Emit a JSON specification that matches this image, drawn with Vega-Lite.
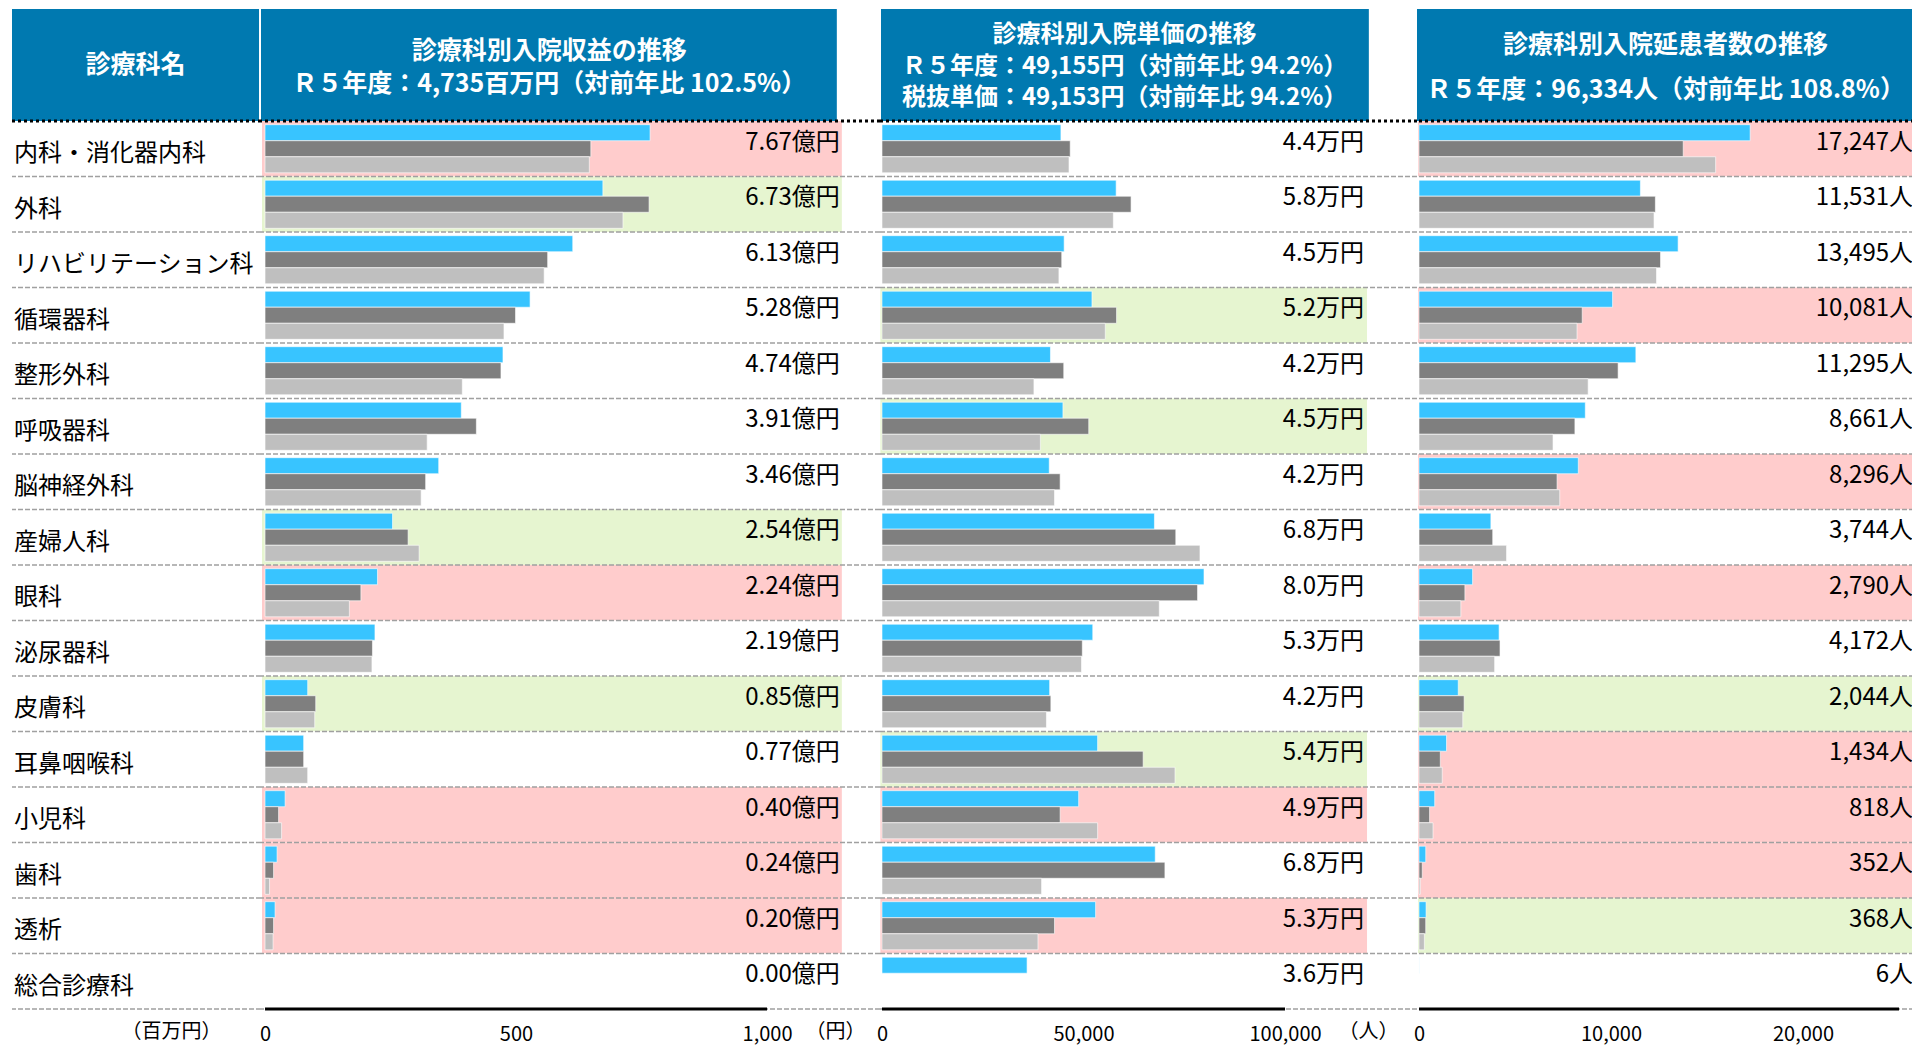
{
  "$schema": "https://vega.github.io/schema/vega-lite/v6.json",
  "padding": {"left": 10, "top": 9, "right": 0, "bottom": 4},
  "bounds": "flush",
  "spacing": 0,
  "columns": 4,
  "config": {
    "view": {"stroke": null},
    "font": "Noto Sans CJK JP",
    "text": {"font": "Noto Sans CJK JP"},
    "axis": {"labelFont": "Noto Sans CJK JP", "titleFont": "Noto Sans CJK JP"}
  },
  "datasets": {
    "rows": [
      {"dept": "内科・消化器内科", "revBg": "down", "priceBg": "none", "patBg": "down", "revLabel": "7.67億円", "priceLabel": "4.4万円", "patLabel": "17,247人"},
      {"dept": "外科", "revBg": "up", "priceBg": "none", "patBg": "none", "revLabel": "6.73億円", "priceLabel": "5.8万円", "patLabel": "11,531人"},
      {"dept": "リハビリテーション科", "revBg": "none", "priceBg": "none", "patBg": "none", "revLabel": "6.13億円", "priceLabel": "4.5万円", "patLabel": "13,495人"},
      {"dept": "循環器科", "revBg": "none", "priceBg": "up", "patBg": "down", "revLabel": "5.28億円", "priceLabel": "5.2万円", "patLabel": "10,081人"},
      {"dept": "整形外科", "revBg": "none", "priceBg": "none", "patBg": "none", "revLabel": "4.74億円", "priceLabel": "4.2万円", "patLabel": "11,295人"},
      {"dept": "呼吸器科", "revBg": "none", "priceBg": "up", "patBg": "none", "revLabel": "3.91億円", "priceLabel": "4.5万円", "patLabel": "8,661人"},
      {"dept": "脳神経外科", "revBg": "none", "priceBg": "none", "patBg": "down", "revLabel": "3.46億円", "priceLabel": "4.2万円", "patLabel": "8,296人"},
      {"dept": "産婦人科", "revBg": "up", "priceBg": "none", "patBg": "none", "revLabel": "2.54億円", "priceLabel": "6.8万円", "patLabel": "3,744人"},
      {"dept": "眼科", "revBg": "down", "priceBg": "none", "patBg": "down", "revLabel": "2.24億円", "priceLabel": "8.0万円", "patLabel": "2,790人"},
      {"dept": "泌尿器科", "revBg": "none", "priceBg": "none", "patBg": "none", "revLabel": "2.19億円", "priceLabel": "5.3万円", "patLabel": "4,172人"},
      {"dept": "皮膚科", "revBg": "up", "priceBg": "none", "patBg": "up", "revLabel": "0.85億円", "priceLabel": "4.2万円", "patLabel": "2,044人"},
      {"dept": "耳鼻咽喉科", "revBg": "none", "priceBg": "up", "patBg": "down", "revLabel": "0.77億円", "priceLabel": "5.4万円", "patLabel": "1,434人"},
      {"dept": "小児科", "revBg": "down", "priceBg": "down", "patBg": "down", "revLabel": "0.40億円", "priceLabel": "4.9万円", "patLabel": "818人"},
      {"dept": "歯科", "revBg": "down", "priceBg": "none", "patBg": "down", "revLabel": "0.24億円", "priceLabel": "6.8万円", "patLabel": "352人"},
      {"dept": "透析", "revBg": "down", "priceBg": "down", "patBg": "up", "revLabel": "0.20億円", "priceLabel": "5.3万円", "patLabel": "368人"},
      {"dept": "総合診療科", "revBg": "none", "priceBg": "none", "patBg": "none", "revLabel": "0.00億円", "priceLabel": "3.6万円", "patLabel": "6人"}
    ],
    "bars": [
      {"dept": "内科・消化器内科", "year": "R5", "rev": 767, "price": 44400, "pat": 17247},
      {"dept": "内科・消化器内科", "year": "R4", "rev": 649, "price": 46700, "pat": 13760},
      {"dept": "内科・消化器内科", "year": "R3", "rev": 646, "price": 46400, "pat": 15450},
      {"dept": "外科", "year": "R5", "rev": 673, "price": 58100, "pat": 11531},
      {"dept": "外科", "year": "R4", "rev": 765, "price": 61800, "pat": 12310},
      {"dept": "外科", "year": "R3", "rev": 713, "price": 57400, "pat": 12240},
      {"dept": "リハビリテーション科", "year": "R5", "rev": 613, "price": 45200, "pat": 13495},
      {"dept": "リハビリテーション科", "year": "R4", "rev": 563, "price": 44600, "pat": 12580},
      {"dept": "リハビリテーション科", "year": "R3", "rev": 556, "price": 43900, "pat": 12370},
      {"dept": "循環器科", "year": "R5", "rev": 528, "price": 52100, "pat": 10081},
      {"dept": "循環器科", "year": "R4", "rev": 499, "price": 58200, "pat": 8500},
      {"dept": "循環器科", "year": "R3", "rev": 476, "price": 55400, "pat": 8230},
      {"dept": "整形外科", "year": "R5", "rev": 474, "price": 41800, "pat": 11295},
      {"dept": "整形外科", "year": "R4", "rev": 470, "price": 45100, "pat": 10370},
      {"dept": "整形外科", "year": "R3", "rev": 393, "price": 37700, "pat": 8810},
      {"dept": "呼吸器科", "year": "R5", "rev": 391, "price": 44900, "pat": 8661},
      {"dept": "呼吸器科", "year": "R4", "rev": 421, "price": 51300, "pat": 8120},
      {"dept": "呼吸器科", "year": "R3", "rev": 323, "price": 39300, "pat": 6980},
      {"dept": "脳神経外科", "year": "R5", "rev": 346, "price": 41500, "pat": 8296},
      {"dept": "脳神経外科", "year": "R4", "rev": 320, "price": 44200, "pat": 7190},
      {"dept": "脳神経外科", "year": "R3", "rev": 311, "price": 42800, "pat": 7330},
      {"dept": "産婦人科", "year": "R5", "rev": 254, "price": 67600, "pat": 3744},
      {"dept": "産婦人科", "year": "R4", "rev": 285, "price": 72900, "pat": 3840},
      {"dept": "産婦人科", "year": "R3", "rev": 307, "price": 78900, "pat": 4560},
      {"dept": "眼科", "year": "R5", "rev": 224, "price": 79900, "pat": 2790},
      {"dept": "眼科", "year": "R4", "rev": 191, "price": 78300, "pat": 2390},
      {"dept": "眼科", "year": "R3", "rev": 168, "price": 68800, "pat": 2180},
      {"dept": "泌尿器科", "year": "R5", "rev": 219, "price": 52300, "pat": 4172},
      {"dept": "泌尿器科", "year": "R4", "rev": 214, "price": 49700, "pat": 4220},
      {"dept": "泌尿器科", "year": "R3", "rev": 213, "price": 49500, "pat": 3940},
      {"dept": "皮膚科", "year": "R5", "rev": 85, "price": 41600, "pat": 2044},
      {"dept": "皮膚科", "year": "R4", "rev": 101, "price": 41900, "pat": 2350},
      {"dept": "皮膚科", "year": "R3", "rev": 99, "price": 40800, "pat": 2280},
      {"dept": "耳鼻咽喉科", "year": "R5", "rev": 77, "price": 53500, "pat": 1434},
      {"dept": "耳鼻咽喉科", "year": "R4", "rev": 77, "price": 64800, "pat": 1110},
      {"dept": "耳鼻咽喉科", "year": "R3", "rev": 85, "price": 72700, "pat": 1210},
      {"dept": "小児科", "year": "R5", "rev": 40, "price": 48800, "pat": 818},
      {"dept": "小児科", "year": "R4", "rev": 27, "price": 44200, "pat": 550},
      {"dept": "小児科", "year": "R3", "rev": 33, "price": 53500, "pat": 730},
      {"dept": "歯科", "year": "R5", "rev": 24, "price": 67800, "pat": 352},
      {"dept": "歯科", "year": "R4", "rev": 17, "price": 70200, "pat": 170},
      {"dept": "歯科", "year": "R3", "rev": 9, "price": 39600, "pat": 70},
      {"dept": "透析", "year": "R5", "rev": 20, "price": 53000, "pat": 368},
      {"dept": "透析", "year": "R4", "rev": 17, "price": 42800, "pat": 350},
      {"dept": "透析", "year": "R3", "rev": 16, "price": 38700, "pat": 280},
      {"dept": "総合診療科", "year": "R5", "rev": 0, "price": 36000, "pat": 6}
    ]
  },
  "concat": [
    {
      "width": 249, "height": 112,
      "data": {"values": [{"t": "診療科名"}]},
      "layer": [
        {"mark": {"type": "rect", "color": "#0079B0"},
         "encoding": {"x": {"datum": 0, "type": "quantitative", "scale": {"domain": [0, 1], "nice": false}, "axis": null}, "x2": {"datum": 0.992}}},
        {"mark": {"type": "text", "color": "#ffffff", "fontSize": 25, "fontWeight": "bold", "baseline": "middle", "align": "center"},
         "encoding": {"x": {"datum": 0.496, "type": "quantitative"}, "text": {"field": "t"}}}
      ]
    },
    {
      "width": 619, "height": 112,
      "data": {"values": [{"t": "診療科別入院収益の推移\nＲ５年度：4,735百万円（対前年比 102.5%）"}]},
      "layer": [
        {"mark": {"type": "rect", "color": "#0079B0"},
         "encoding": {"x": {"datum": -8, "type": "quantitative", "scale": {"domain": [-8, 1225], "nice": false}, "axis": null}, "x2": {"datum": 1139}}},
        {"mark": {"type": "text", "color": "#ffffff", "fontSize": 25, "fontWeight": "bold", "baseline": "middle", "align": "center", "lineBreak": "\n", "lineHeight": 33, "dy": -14},
         "encoding": {"x": {"datum": 566, "type": "quantitative"}, "text": {"field": "t"}}}
      ]
    },
    {
      "width": 537, "height": 112,
      "data": {"values": [{"t": "診療科別入院単価の推移\nＲ５年度：49,155円（対前年比 94.2%）\n税抜単価：49,153円（対前年比 94.2%）"}]},
      "layer": [
        {"mark": {"type": "rect", "color": "#0079B0"},
         "encoding": {"x": {"datum": -248, "type": "quantitative", "scale": {"domain": [-496, 132750], "nice": false}, "axis": null}, "x2": {"datum": 120800}}},
        {"mark": {"type": "text", "color": "#ffffff", "fontSize": 24, "fontWeight": "bold", "baseline": "middle", "align": "center", "lineBreak": "\n", "lineHeight": 31.5, "dy": -30},
         "encoding": {"x": {"datum": 60200, "type": "quantitative"}, "text": {"field": "t"}}}
      ]
    },
    {
      "width": 497, "height": 112,
      "view": {"fill": "#0079B0", "stroke": null},
      "data": {"values": [{"t": "診療科別入院延患者数の推移\nＲ５年度：96,334人（対前年比 108.8%）"}]},
      "mark": {"type": "text", "color": "#ffffff", "fontSize": 25, "fontWeight": "bold", "baseline": "middle", "align": "center", "lineBreak": "\n", "lineHeight": 45, "dy": -20},
      "encoding": {"text": {"field": "t"}}
    },
    {
      "width": 249, "height": 888,
      "data": {"name": "rows"},
      "layer": [
        {"mark": {"type": "text", "align": "left", "baseline": "middle", "fontSize": 24, "color": "#000000", "dx": 2},
         "encoding": {
           "y": {"field": "dept", "type": "nominal", "bandPosition": 0.6, "scale": {"domain": ["内科・消化器内科","外科","リハビリテーション科","循環器科","整形外科","呼吸器科","脳神経外科","産婦人科","眼科","泌尿器科","皮膚科","耳鼻咽喉科","小児科","歯科","透析","総合診療科"], "paddingInner": 0, "paddingOuter": 0}, "axis": null},
           "x": {"datum": 0, "type": "quantitative", "scale": {"domain": [0, 1], "nice": false}, "axis": null},
           "text": {"field": "dept"}}},
        {"mark": {"type": "rule", "color": "#A0A0A0", "strokeWidth": 1.5, "strokeDash": [5, 2]},
         "encoding": {"y": {"field": "dept", "type": "nominal", "bandPosition": 1, "scale": {"domain": ["内科・消化器内科","外科","リハビリテーション科","循環器科","整形外科","呼吸器科","脳神経外科","産婦人科","眼科","泌尿器科","皮膚科","耳鼻咽喉科","小児科","歯科","透析","総合診療科"], "paddingInner": 0, "paddingOuter": 0}, "axis": null}}},
        {"transform": [{"filter": "datum.dept === '内科・消化器内科'"}],
         "mark": {"type": "rule", "color": "#000000", "strokeWidth": 3, "strokeDash": [3, 3]},
         "encoding": {"y": {"field": "dept", "type": "nominal", "bandPosition": 0, "scale": {"domain": ["内科・消化器内科","外科","リハビリテーション科","循環器科","整形外科","呼吸器科","脳神経外科","産婦人科","眼科","泌尿器科","皮膚科","耳鼻咽喉科","小児科","歯科","透析","総合診療科"], "paddingInner": 0, "paddingOuter": 0}, "axis": null}}}
      ]
    },
    {
      "width": 619, "height": 888,
      "layer": [
        {"data": {"name": "rows"},
         "mark": {"type": "rect"},
         "encoding": {
           "y": {"field": "dept", "type": "nominal", "scale": {"domain": ["内科・消化器内科","外科","リハビリテーション科","循環器科","整形外科","呼吸器科","脳神経外科","産婦人科","眼科","泌尿器科","皮膚科","耳鼻咽喉科","小児科","歯科","透析","総合診療科"], "paddingInner": 0, "paddingOuter": 0}, "axis": null},
           "x": {"datum": -6, "type": "quantitative", "scale": {"domain": [-8, 1225], "nice": false},
                 "axis": {"values": [0, 500, 1000], "format": ",d", "domain": false, "ticks": false, "grid": false, "labelFontSize": 20, "labelPadding": 15, "labelColor": "#000000", "labelFlush": false, "title": "（百万円）", "titleX": -40, "titleY": 22, "titleAlign": "right", "titleBaseline": "middle", "titleFontWeight": "normal", "titleFontSize": 20, "titleColor": "#000000"}},
           "x2": {"datum": 1149},
           "fill": {"field": "revBg", "type": "nominal", "scale": {"domain": ["down", "up", "none"], "range": ["#FFCCCC", "#E6F5D0", "#FFFFFF"]}, "legend": null}}},
        {"data": {"name": "bars"},
         "mark": {"type": "bar", "stroke": "#ffffff", "strokeWidth": 1, "strokeOpacity": 0.6},
         "encoding": {
           "y": {"field": "dept", "type": "nominal", "scale": {"domain": ["内科・消化器内科","外科","リハビリテーション科","循環器科","整形外科","呼吸器科","脳神経外科","産婦人科","眼科","泌尿器科","皮膚科","耳鼻咽喉科","小児科","歯科","透析","総合診療科"], "paddingInner": 0, "paddingOuter": 0}, "axis": null},
           "x": {"field": "rev", "type": "quantitative"},
           "yOffset": {"field": "year", "type": "nominal", "scale": {"domain": ["R5", "R4", "R3"], "paddingInner": 0, "paddingOuter": 0.23}},
           "color": {"field": "year", "type": "nominal", "scale": {"domain": ["R5", "R4", "R3"], "range": ["#38C4FF", "#7F7F7F", "#BFBFBF"]}, "legend": null}}},
        {"data": {"name": "rows"},
         "mark": {"type": "text", "align": "right", "baseline": "middle", "fontSize": 24, "color": "#000000"},
         "encoding": {
           "y": {"field": "dept", "type": "nominal", "bandPosition": 0.39, "scale": {"domain": ["内科・消化器内科","外科","リハビリテーション科","循環器科","整形外科","呼吸器科","脳神経外科","産婦人科","眼科","泌尿器科","皮膚科","耳鼻咽喉科","小児科","歯科","透析","総合診療科"], "paddingInner": 0, "paddingOuter": 0}, "axis": null},
           "x": {"datum": 1145, "type": "quantitative"},
           "text": {"field": "revLabel"}}},
        {"data": {"name": "rows"},
         "mark": {"type": "rule", "color": "#A0A0A0", "strokeWidth": 1.5, "strokeDash": [5, 2]},
         "encoding": {"y": {"field": "dept", "type": "nominal", "bandPosition": 1, "scale": {"domain": ["内科・消化器内科","外科","リハビリテーション科","循環器科","整形外科","呼吸器科","脳神経外科","産婦人科","眼科","泌尿器科","皮膚科","耳鼻咽喉科","小児科","歯科","透析","総合診療科"], "paddingInner": 0, "paddingOuter": 0}, "axis": null}}},
        {"data": {"name": "rows"},
         "transform": [{"filter": "datum.dept === '内科・消化器内科'"}],
         "mark": {"type": "rule", "color": "#000000", "strokeWidth": 3, "strokeDash": [3, 3]},
         "encoding": {"y": {"field": "dept", "type": "nominal", "bandPosition": 0, "scale": {"domain": ["内科・消化器内科","外科","リハビリテーション科","循環器科","整形外科","呼吸器科","脳神経外科","産婦人科","眼科","泌尿器科","皮膚科","耳鼻咽喉科","小児科","歯科","透析","総合診療科"], "paddingInner": 0, "paddingOuter": 0}, "axis": null}}},
        {"data": {"name": "rows"},
         "transform": [{"filter": "datum.dept === '総合診療科'"}],
         "mark": {"type": "rule", "color": "#000000", "strokeWidth": 3},
         "encoding": {"y": {"field": "dept", "type": "nominal", "bandPosition": 1, "scale": {"domain": ["内科・消化器内科","外科","リハビリテーション科","循環器科","整形外科","呼吸器科","脳神経外科","産婦人科","眼科","泌尿器科","皮膚科","耳鼻咽喉科","小児科","歯科","透析","総合診療科"], "paddingInner": 0, "paddingOuter": 0}, "axis": null},
                      "x": {"datum": 0, "type": "quantitative"}, "x2": {"datum": 1000}}}
      ]
    },
    {
      "width": 537, "height": 888,
      "layer": [
        {"data": {"name": "rows"},
         "mark": {"type": "rect"},
         "encoding": {
           "y": {"field": "dept", "type": "nominal", "scale": {"domain": ["内科・消化器内科","外科","リハビリテーション科","循環器科","整形外科","呼吸器科","脳神経外科","産婦人科","眼科","泌尿器科","皮膚科","耳鼻咽喉科","小児科","歯科","透析","総合診療科"], "paddingInner": 0, "paddingOuter": 0}, "axis": null},
           "x": {"datum": -400, "type": "quantitative", "scale": {"domain": [-496, 132750], "nice": false},
                 "axis": {"values": [0, 50000, 100000], "format": ",d", "domain": false, "ticks": false, "grid": false, "labelFontSize": 20, "labelPadding": 15, "labelColor": "#000000", "labelFlush": false, "title": "（円）", "titleX": -15, "titleY": 22, "titleAlign": "right", "titleBaseline": "middle", "titleFontWeight": "normal", "titleFontSize": 20, "titleColor": "#000000"}},
           "x2": {"datum": 120350},
           "fill": {"field": "priceBg", "type": "nominal", "scale": {"domain": ["down", "up", "none"], "range": ["#FFCCCC", "#E6F5D0", "#FFFFFF"]}, "legend": null}}},
        {"data": {"name": "bars"},
         "mark": {"type": "bar", "stroke": "#ffffff", "strokeWidth": 1, "strokeOpacity": 0.6},
         "encoding": {
           "y": {"field": "dept", "type": "nominal", "scale": {"domain": ["内科・消化器内科","外科","リハビリテーション科","循環器科","整形外科","呼吸器科","脳神経外科","産婦人科","眼科","泌尿器科","皮膚科","耳鼻咽喉科","小児科","歯科","透析","総合診療科"], "paddingInner": 0, "paddingOuter": 0}, "axis": null},
           "x": {"field": "price", "type": "quantitative"},
           "yOffset": {"field": "year", "type": "nominal", "scale": {"domain": ["R5", "R4", "R3"], "paddingInner": 0, "paddingOuter": 0.23}},
           "color": {"field": "year", "type": "nominal", "scale": {"domain": ["R5", "R4", "R3"], "range": ["#38C4FF", "#7F7F7F", "#BFBFBF"]}, "legend": null}}},
        {"data": {"name": "rows"},
         "mark": {"type": "text", "align": "right", "baseline": "middle", "fontSize": 24, "color": "#000000"},
         "encoding": {
           "y": {"field": "dept", "type": "nominal", "bandPosition": 0.39, "scale": {"domain": ["内科・消化器内科","外科","リハビリテーション科","循環器科","整形外科","呼吸器科","脳神経外科","産婦人科","眼科","泌尿器科","皮膚科","耳鼻咽喉科","小児科","歯科","透析","総合診療科"], "paddingInner": 0, "paddingOuter": 0}, "axis": null},
           "x": {"datum": 119600, "type": "quantitative"},
           "text": {"field": "priceLabel"}}},
        {"data": {"name": "rows"},
         "mark": {"type": "rule", "color": "#A0A0A0", "strokeWidth": 1.5, "strokeDash": [5, 2]},
         "encoding": {"y": {"field": "dept", "type": "nominal", "bandPosition": 1, "scale": {"domain": ["内科・消化器内科","外科","リハビリテーション科","循環器科","整形外科","呼吸器科","脳神経外科","産婦人科","眼科","泌尿器科","皮膚科","耳鼻咽喉科","小児科","歯科","透析","総合診療科"], "paddingInner": 0, "paddingOuter": 0}, "axis": null}}},
        {"data": {"name": "rows"},
         "transform": [{"filter": "datum.dept === '内科・消化器内科'"}],
         "mark": {"type": "rule", "color": "#000000", "strokeWidth": 3, "strokeDash": [3, 3]},
         "encoding": {"y": {"field": "dept", "type": "nominal", "bandPosition": 0, "scale": {"domain": ["内科・消化器内科","外科","リハビリテーション科","循環器科","整形外科","呼吸器科","脳神経外科","産婦人科","眼科","泌尿器科","皮膚科","耳鼻咽喉科","小児科","歯科","透析","総合診療科"], "paddingInner": 0, "paddingOuter": 0}, "axis": null}}},
        {"data": {"name": "rows"},
         "transform": [{"filter": "datum.dept === '総合診療科'"}],
         "mark": {"type": "rule", "color": "#000000", "strokeWidth": 3},
         "encoding": {"y": {"field": "dept", "type": "nominal", "bandPosition": 1, "scale": {"domain": ["内科・消化器内科","外科","リハビリテーション科","循環器科","整形外科","呼吸器科","脳神経外科","産婦人科","眼科","泌尿器科","皮膚科","耳鼻咽喉科","小児科","歯科","透析","総合診療科"], "paddingInner": 0, "paddingOuter": 0}, "axis": null},
                      "x": {"datum": 0, "type": "quantitative"}, "x2": {"datum": 100000}}}
      ]
    },
    {
      "width": 497, "height": 888,
      "layer": [
        {"data": {"name": "rows"},
         "mark": {"type": "rect"},
         "encoding": {
           "y": {"field": "dept", "type": "nominal", "scale": {"domain": ["内科・消化器内科","外科","リハビリテーション科","循環器科","整形外科","呼吸器科","脳神経外科","産婦人科","眼科","泌尿器科","皮膚科","耳鼻咽喉科","小児科","歯科","透析","総合診療科"], "paddingInner": 0, "paddingOuter": 0}, "axis": null},
           "x": {"datum": -52, "type": "quantitative", "scale": {"domain": [-104, 25780], "nice": false},
                 "axis": {"values": [0, 10000, 20000], "format": ",d", "domain": false, "ticks": false, "grid": false, "labelFontSize": 20, "labelPadding": 15, "labelColor": "#000000", "labelFlush": false, "title": "（人）", "titleX": -19, "titleY": 22, "titleAlign": "right", "titleBaseline": "middle", "titleFontWeight": "normal", "titleFontSize": 20, "titleColor": "#000000"}},
           "x2": {"datum": 25780},
           "fill": {"field": "patBg", "type": "nominal", "scale": {"domain": ["down", "up", "none"], "range": ["#FFCCCC", "#E6F5D0", "#FFFFFF"]}, "legend": null}}},
        {"data": {"name": "bars"},
         "mark": {"type": "bar", "stroke": "#ffffff", "strokeWidth": 1, "strokeOpacity": 0.6},
         "encoding": {
           "y": {"field": "dept", "type": "nominal", "scale": {"domain": ["内科・消化器内科","外科","リハビリテーション科","循環器科","整形外科","呼吸器科","脳神経外科","産婦人科","眼科","泌尿器科","皮膚科","耳鼻咽喉科","小児科","歯科","透析","総合診療科"], "paddingInner": 0, "paddingOuter": 0}, "axis": null},
           "x": {"field": "pat", "type": "quantitative"},
           "yOffset": {"field": "year", "type": "nominal", "scale": {"domain": ["R5", "R4", "R3"], "paddingInner": 0, "paddingOuter": 0.23}},
           "color": {"field": "year", "type": "nominal", "scale": {"domain": ["R5", "R4", "R3"], "range": ["#38C4FF", "#7F7F7F", "#BFBFBF"]}, "legend": null}}},
        {"data": {"name": "rows"},
         "mark": {"type": "text", "align": "right", "baseline": "middle", "fontSize": 24, "color": "#000000"},
         "encoding": {
           "y": {"field": "dept", "type": "nominal", "bandPosition": 0.39, "scale": {"domain": ["内科・消化器内科","外科","リハビリテーション科","循環器科","整形外科","呼吸器科","脳神経外科","産婦人科","眼科","泌尿器科","皮膚科","耳鼻咽喉科","小児科","歯科","透析","総合診療科"], "paddingInner": 0, "paddingOuter": 0}, "axis": null},
           "x": {"datum": 25730, "type": "quantitative"},
           "text": {"field": "patLabel"}}},
        {"data": {"name": "rows"},
         "mark": {"type": "rule", "color": "#A0A0A0", "strokeWidth": 1.5, "strokeDash": [5, 2]},
         "encoding": {"y": {"field": "dept", "type": "nominal", "bandPosition": 1, "scale": {"domain": ["内科・消化器内科","外科","リハビリテーション科","循環器科","整形外科","呼吸器科","脳神経外科","産婦人科","眼科","泌尿器科","皮膚科","耳鼻咽喉科","小児科","歯科","透析","総合診療科"], "paddingInner": 0, "paddingOuter": 0}, "axis": null}}},
        {"data": {"name": "rows"},
         "transform": [{"filter": "datum.dept === '内科・消化器内科'"}],
         "mark": {"type": "rule", "color": "#000000", "strokeWidth": 3, "strokeDash": [3, 3]},
         "encoding": {"y": {"field": "dept", "type": "nominal", "bandPosition": 0, "scale": {"domain": ["内科・消化器内科","外科","リハビリテーション科","循環器科","整形外科","呼吸器科","脳神経外科","産婦人科","眼科","泌尿器科","皮膚科","耳鼻咽喉科","小児科","歯科","透析","総合診療科"], "paddingInner": 0, "paddingOuter": 0}, "axis": null}}},
        {"data": {"name": "rows"},
         "transform": [{"filter": "datum.dept === '総合診療科'"}],
         "mark": {"type": "rule", "color": "#000000", "strokeWidth": 3},
         "encoding": {"y": {"field": "dept", "type": "nominal", "bandPosition": 1, "scale": {"domain": ["内科・消化器内科","外科","リハビリテーション科","循環器科","整形外科","呼吸器科","脳神経外科","産婦人科","眼科","泌尿器科","皮膚科","耳鼻咽喉科","小児科","歯科","透析","総合診療科"], "paddingInner": 0, "paddingOuter": 0}, "axis": null},
                      "x": {"datum": 0, "type": "quantitative"}, "x2": {"datum": 25000}}}
      ]
    }
  ]
}
